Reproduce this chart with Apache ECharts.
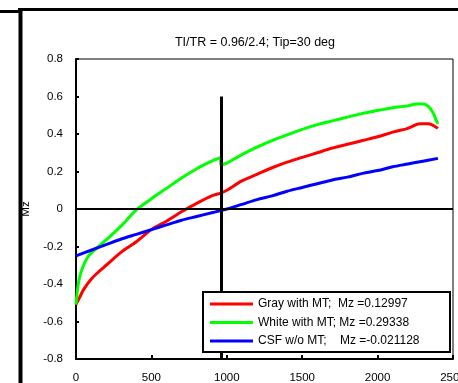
<!DOCTYPE html>
<html>
<head>
<meta charset="utf-8">
<script src="https://cdn.jsdelivr.net/npm/echarts@6/dist/echarts.min.js"></script>
<style>
  html, body { margin: 0; padding: 0; background: #fff; }
  #chart { width: 458px; height: 383px; }
</style>
</head>
<body>
<div id="chart"></div>
<script>
// Time after inversion (ms) and longitudinal magnetisation Mz for each tissue
const grayT  = [0, 25, 50, 100, 150, 200, 300, 400, 500, 600, 700, 800, 900, 960, 1000, 1100, 1200, 1300, 1400, 1500, 1600, 1700, 1800, 1900, 2000, 2100, 2200, 2280, 2340, 2380, 2400];
const grayMz = [-0.51, -0.47, -0.43, -0.375, -0.335, -0.30, -0.23, -0.175, -0.11, -0.065, -0.015, 0.03, 0.07, 0.085, 0.10, 0.15, 0.185, 0.22, 0.25, 0.275, 0.30, 0.325, 0.345, 0.365, 0.385, 0.41, 0.43, 0.455, 0.455, 0.44, 0.43];

const whiteT  = [0, 10, 25, 50, 75, 100, 150, 200, 300, 400, 500, 600, 700, 800, 900, 960, 960, 1000, 1100, 1200, 1300, 1400, 1500, 1600, 1700, 1800, 1900, 2000, 2100, 2200, 2260, 2300, 2340, 2370, 2390, 2400];
const whiteMz = [-0.51, -0.43, -0.36, -0.30, -0.26, -0.235, -0.20, -0.165, -0.09, -0.005, 0.055, 0.11, 0.165, 0.215, 0.255, 0.275, 0.235, 0.245, 0.29, 0.33, 0.365, 0.395, 0.425, 0.45, 0.47, 0.49, 0.51, 0.525, 0.54, 0.55, 0.56, 0.56, 0.545, 0.51, 0.47, 0.455];

const csfT  = [0, 100, 200, 300, 400, 500, 600, 700, 800, 900, 1000, 1100, 1200, 1300, 1400, 1500, 1600, 1700, 1800, 1900, 2000, 2100, 2200, 2300, 2400];
const csfMz = [-0.25, -0.22, -0.19, -0.16, -0.135, -0.11, -0.085, -0.06, -0.04, -0.02, 0.0, 0.025, 0.05, 0.07, 0.095, 0.115, 0.135, 0.155, 0.17, 0.19, 0.205, 0.225, 0.24, 0.255, 0.27];

const seriesNames = [
  'Gray with MT;  Mz =0.12997',
  'White with MT; Mz =0.29338',
  'CSF w/o MT;    Mz =-0.021128'
];
const seriesColors = ['#ff0000', '#00ff00', '#0000ff'];

const xTicks = [0, 500, 1000, 1500, 2000, 2500];
const yTicks = [-0.8, -0.6, -0.4, -0.2, 0, 0.2, 0.4, 0.6, 0.8];

// Inversion time marker (TI = 0.96 s) and its vertical extent
const tiMs = 960;
const tiMarkTop = 0.6;

const titleText = 'TI/TR = 0.96/2.4; Tip=30 deg';

const pair = (xs, ys) => xs.map((x, i) => [x, ys[i]]);
const FONT = 'Arial, "Liberation Sans", sans-serif';

const chart = echarts.init(document.getElementById('chart'), null, { renderer: 'canvas' });

const curves = [pair(grayT, grayMz), pair(whiteT, whiteMz), pair(csfT, csfMz)];

chart.setOption({
  animation: false,
  backgroundColor: '#fff',
  title: {
    text: titleText,
    left: 250,
    top: 31,
    textAlign: 'center',
    textStyle: { fontFamily: FONT, fontSize: 12.5, fontWeight: 'normal', color: '#000' }
  },
  grid: {
    left: 76, top: 59, right: 5, bottom: 24,
    containLabel: false,
    outerBoundsMode: 'none',
    show: true, borderColor: '#000', borderWidth: 1, backgroundColor: 'transparent'
  },
  graphic: [
    // page frame
    { type: 'line', shape: { x1: 18, y1: 9.5, x2: 458, y2: 9.5 }, style: { stroke: '#000', lineWidth: 3 } },
    { type: 'line', shape: { x1: 0, y1: 11.5, x2: 20, y2: 11.5 }, style: { stroke: '#000', lineWidth: 3 } },
    { type: 'line', shape: { x1: 20.5, y1: 8, x2: 20.5, y2: 383 }, style: { stroke: '#000', lineWidth: 4 } },
    // legend box
    { type: 'rect', z: 10, shape: { x: 203, y: 292, width: 247, height: 60 },
      style: { fill: '#fff', stroke: '#000', lineWidth: 2 } }
  ],
  legend: {
    z: 20,
    orient: 'vertical',
    left: 210,
    top: 297,
    itemGap: 4.5,
    itemWidth: 43,
    itemHeight: 3,
    icon: 'rect',
    padding: 0,
    data: seriesNames.map((n, i) => ({ name: n, itemStyle: { color: seriesColors[i] } })),
    textStyle: { fontFamily: FONT, fontSize: 12, color: '#000', lineHeight: 14 }
  },
  xAxis: {
    type: 'value',
    min: xTicks[0],
    max: xTicks[xTicks.length - 1],
    interval: 500,
    axisLine: { show: true, onZero: false, lineStyle: { color: '#000', width: 2 } },
    axisTick: { show: true, inside: true, length: 4, lineStyle: { color: '#000', width: 2 } },
    axisLabel: { fontFamily: FONT, fontSize: 11.5, color: '#000', margin: 13, formatter: v => String(v) },
    splitLine: { show: false }
  },
  yAxis: {
    type: 'value',
    min: yTicks[0],
    max: yTicks[yTicks.length - 1],
    interval: 0.2,
    name: 'Mz',
    nameLocation: 'middle',
    nameGap: 44,
    nameRotate: 90,
    nameTextStyle: { fontFamily: FONT, fontSize: 11.5, color: '#000' },
    axisLine: { show: true, onZero: false, lineStyle: { color: '#000', width: 2 } },
    axisTick: { show: true, inside: true, length: 3, lineStyle: { color: '#000', width: 2 } },
    axisLabel: { fontFamily: FONT, fontSize: 11.5, color: '#000', margin: 13 },
    splitLine: { show: false }
  },
  series: [
    {
      // reference lines: Mz = 0 and the inversion time
      name: 'guides',
      type: 'line',
      data: [],
      z: 1,
      silent: true,
      markLine: {
        silent: true,
        symbol: 'none',
        label: { show: false },
        animation: false,
        data: [
          [{ coord: [xTicks[0], 0], lineStyle: { color: '#000', width: 2, type: 'solid' } },
           { coord: [xTicks[xTicks.length - 1], 0] }],
          [{ coord: [tiMs, tiMarkTop], lineStyle: { color: '#000', width: 3, type: 'solid' } },
           { coord: [tiMs, yTicks[0]] }]
        ]
      }
    }
  ].concat(curves.map((d, i) => ({
    name: seriesNames[i],
    type: 'line',
    data: d,
    z: 3,
    showSymbol: false,
    smooth: 0.3,
    lineStyle: { color: seriesColors[i], width: 3 },
    itemStyle: { color: seriesColors[i] }
  })))
});
</script>
</body>
</html>
